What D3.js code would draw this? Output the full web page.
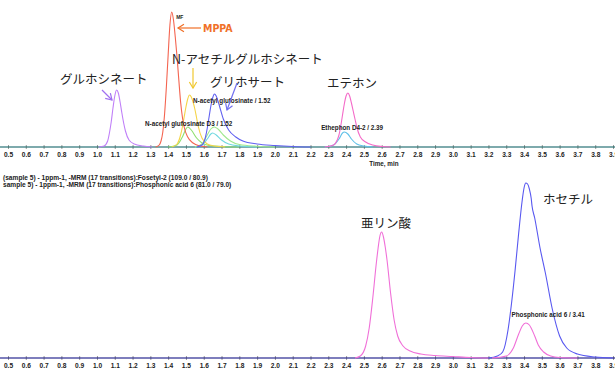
<!DOCTYPE html>
<html><head><meta charset="utf-8">
<script src="https://cdn.jsdelivr.net/npm/d3@7"></script>
<style>
html,body{margin:0;padding:0;background:#fff;}
svg{display:block;}
.jp{font-family:"Noto Sans CJK JP","Noto Sans",sans-serif;font-size:12.5px;fill:#222;}
.sm{font-family:"Liberation Sans",Arial,sans-serif;font-weight:bold;font-size:6.3px;fill:#222;}
</style>
</head><body>
<svg id="c" width="615" height="372"></svg>
<script>
// ---- data (time in min, intensity in cps) ----
const tickLabels = ["0.5","0.6","0.7","0.8","0.9","1.0","1.1","1.2","1.3","1.4","1.5","1.6","1.7","1.8","1.9","2.0","2.1","2.2","2.3","2.4","2.5","2.6","2.7","2.8","2.9","3.0","3.1","3.2","3.3","3.4","3.5","3.6","3.7","3.8","3.9"];

// upper panel
const glufosinate = [[1.01,0],[1.04,100],[1.06,600],[1.07,1400],[1.08,2500],[1.09,3900],[1.10,5100],[1.11,5700],[1.12,5400],[1.13,4500],[1.14,3400],[1.15,2400],[1.16,1600],[1.18,700],[1.21,300],[1.26,100],[1.31,0]];
const mppa = [[1.33,0],[1.35,200],[1.36,600],[1.37,1500],[1.38,3300],[1.39,6000],[1.40,9200],[1.41,12200],[1.42,13500],[1.43,12700],[1.44,11000],[1.45,9000],[1.46,6700],[1.47,4500],[1.48,3000],[1.49,2000],[1.51,1000],[1.54,400],[1.58,100],[1.62,0]];
const nAcetyl = [[1.42,0],[1.45,300],[1.47,1200],[1.48,2000],[1.49,3000],[1.50,4000],[1.51,4800],[1.52,5200],[1.53,5000],[1.54,4500],[1.55,3800],[1.56,2900],[1.57,2000],[1.59,900],[1.62,300],[1.66,100],[1.72,0]];
const nAcetylD3 = [[1.40,0],[1.45,200],[1.48,1000],[1.50,1800],[1.51,2000],[1.53,1700],[1.56,900],[1.59,400],[1.63,150],[1.70,50],[1.80,0]];
const glyphosate = [[1.56,0],[1.59,200],[1.61,1000],[1.62,1900],[1.63,3000],[1.64,4100],[1.65,4900],[1.66,5300],[1.67,5100],[1.68,4600],[1.69,4000],[1.71,2800],[1.74,1700],[1.78,1000],[1.82,600],[1.90,300],[2.00,150],[2.10,50],[2.20,0]];
const glyphosateIS = [[1.55,0],[1.59,300],[1.62,1200],[1.64,1800],[1.66,2000],[1.68,1800],[1.71,1200],[1.75,600],[1.80,250],[1.90,80],[2.00,0]];
const glyphosateIS2 = [[1.55,0],[1.59,200],[1.62,800],[1.64,1300],[1.65,1400],[1.67,1200],[1.70,700],[1.74,300],[1.80,100],[1.90,0]];
const ethephon = [[2.28,0],[2.33,200],[2.35,700],[2.36,1200],[2.37,2100],[2.38,3200],[2.39,4300],[2.40,5100],[2.41,5400],[2.42,5100],[2.43,4400],[2.44,3600],[2.45,2800],[2.46,2000],[2.48,1000],[2.51,500],[2.55,200],[2.60,50],[2.65,0]];
const ethephonD4 = [[2.28,0],[2.33,200],[2.36,800],[2.38,1400],[2.39,1500],[2.41,1300],[2.43,800],[2.46,300],[2.50,100],[2.55,0]];

// lower panel
const phosphonic = [[2.45,0],[2.48,200],[2.51,1200],[2.53,3000],[2.55,6000],[2.57,9500],[2.58,11000],[2.59,12200],[2.60,12600],[2.61,12100],[2.62,11100],[2.63,9800],[2.65,6500],[2.67,3800],[2.69,2200],[2.72,1200],[2.76,700],[2.82,400],[2.90,250],[3.00,150],[3.10,50],[3.20,0]];
const fosetyl = [[3.20,0],[3.25,200],[3.28,600],[3.31,2800],[3.33,5500],[3.35,8800],[3.37,12500],[3.39,15800],[3.40,17000],[3.41,17500],[3.42,17400],[3.43,16900],[3.44,16000],[3.445,15200],[3.46,14000],[3.49,11000],[3.52,8500],[3.56,4800],[3.60,2200],[3.64,1000],[3.70,400],[3.80,100],[3.90,0]];
const phosphonic2 = [[3.22,0],[3.30,200],[3.34,1000],[3.37,2400],[3.39,3200],[3.41,3500],[3.43,3300],[3.44,3000],[3.46,2200],[3.48,1300],[3.51,600],[3.55,200],[3.60,50],[3.70,0]];
const flatLine = [[0.45,0],[3.95,0]];

// ---- drawing ----
const svg = d3.select("#c");
const x = d3.scaleLinear().domain([0.5, 3.9]).range([8, 613]);
const yTop = d3.scaleLinear().domain([0, 14000]).range([147, 7]);
const yBot = d3.scaleLinear().domain([0, 18000]).range([358, 178]);

function drawAxis(y0){
  const ax = d3.axisBottom(x).tickValues(tickLabels.map(Number)).tickFormat((d,i)=>tickLabels[i]).tickSize(2).tickPadding(3);
  const g = svg.append("g").attr("transform",`translate(0,${y0})`).call(ax);
  g.select(".domain").attr("stroke","#667").attr("stroke-width",1.3).attr("d",`M0,0H615`);
  g.selectAll(".tick line").attr("stroke","#333").attr("y1",-1.5).attr("y2",1.5);
  g.selectAll(".tick text").attr("class","sm").attr("fill","#222").style("font-size","6.6px");
  return g;
}

const lineGen = y => d3.line().x(d=>x(d[0])).y(d=>y(d[1])).curve(d3.curveMonotoneX);
function trace(data, y, color, w){
  svg.append("path").datum(data)
    .attr("fill","none").attr("stroke",color).attr("stroke-width",w||1.1)
    .attr("stroke-linejoin","round")
    .attr("d", lineGen(y));
}

// upper panel
drawAxis(147);
trace(flatLine, yTop, "#70c8c0", 1);
trace(glufosinate, yTop, "#c080f8");
trace(nAcetylD3, yTop, "#90e070");
trace(glyphosateIS2, yTop, "#70d8e0");
trace(glyphosateIS, yTop, "#a0e890");
trace(nAcetyl, yTop, "#f5d448");
trace(mppa, yTop, "#f46450");
trace(glyphosate, yTop, "#6060f0");
trace(ethephonD4, yTop, "#60c0e8");
trace(ethephon, yTop, "#f46ac8");

// lower panel
drawAxis(358);
trace(flatLine, yBot, "#7070e0", 1);
trace(phosphonic, yBot, "#f070d8");
trace(fosetyl, yBot, "#5858f0");
trace(phosphonic2, yBot, "#f070d8");

// x title
svg.append("text").attr("class","sm").attr("x",x(2.53)).attr("y",166).text("Time, min");

// sub titles
svg.append("text").attr("class","sm").attr("x",3).attr("y",180).style("font-size","6.6px").text("(sample 5) - 1ppm-1, -MRM (17 transitions):Fosetyl-2 (109.0 / 80.9)");
svg.append("text").attr("class","sm").attr("x",3).attr("y",187).style("font-size","6.6px").text("sample 5) - 1ppm-1, -MRM (17 transitions):Phosphonic acid 6 (81.0 / 79.0)");

// peak labels
const smallLabels = [
  ["MF", 1.445, 19],
  ["N-acetyl glufosinate / 1.52", 1.54, 103],
  ["N-acetyl glufosinate D3 / 1.52", 1.27, 126],
  ["Ethephon D4-2 / 2.39", 2.26, 130]
];
smallLabels.forEach(d=>svg.append("text").attr("class","sm").attr("x",x(d[1])).attr("y",d[2]).style("font-size", d[0]==="MF"?"5px":null).text(d[0]));
svg.append("text").attr("class","sm").attr("x",x(3.33)).attr("y",yBot(4000)-1).text("Phosphonic acid 6 / 3.41");

// Japanese annotations
const jpLabels = [
  ["グルホシネート", 60, 84],
  ["N-アセチルグルホシネート", 172, 64],
  ["グリホサート", 210, 87],
  ["エテホン", 327, 88],
  ["亜リン酸", 361, 228],
  ["ホセチル", 543, 204]
];
jpLabels.forEach(d=>svg.append("text").attr("class","jp").attr("x",d[1]).attr("y",d[2]).text(d[0]));
svg.append("text").attr("x",203).attr("y",32).attr("fill","#f07028")
  .style("font-family","'DejaVu Sans Condensed','DejaVu Sans',sans-serif").style("font-weight","bold").style("font-size","10.5px").text("MPPA");

// arrows
function arrow(x1,y1,x2,y2,color){
  svg.append("line").attr("x1",x1).attr("y1",y1).attr("x2",x2).attr("y2",y2).attr("stroke",color).attr("stroke-width",1.2);
  const a = Math.atan2(y2-y1,x2-x1), L=7, s=0.55;
  const p = [[x2-L*Math.cos(a-s), y2-L*Math.sin(a-s)],[x2,y2],[x2-L*Math.cos(a+s), y2-L*Math.sin(a+s)]];
  svg.append("path").attr("d",d3.line()(p)).attr("fill","none").attr("stroke",color).attr("stroke-width",1.2);
}
arrow(102,90,112,100,"#a070f0");
arrow(201,28,178,28,"#f07028");
arrow(193,68,193,88,"#f0c830");
arrow(237,83,227,110,"#7070f0");
</script>
</body></html>
